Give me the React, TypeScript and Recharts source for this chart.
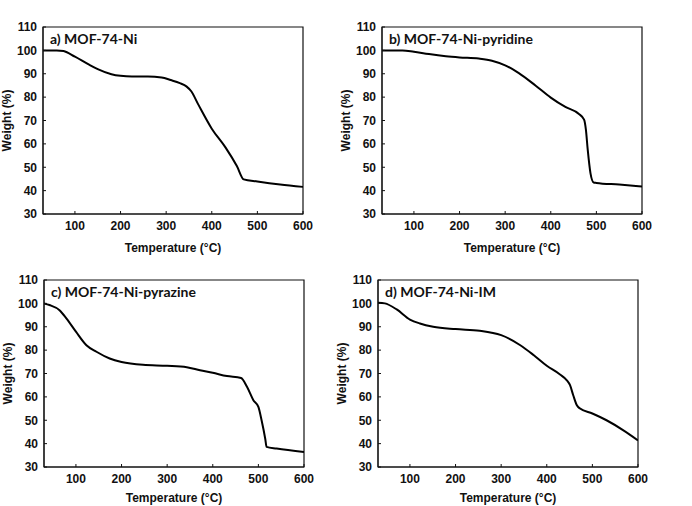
import { LineChart, Line, XAxis, YAxis, ReferenceArea, Label } from "recharts"

// tick values shared by all four panels
const xTicks = [100, 200, 300, 400, 500, 600]
const yTicks = [30, 40, 50, 60, 70, 80, 90, 100, 110]

// a) MOF-74-Ni
const aTemp = [30, 60, 75, 100, 130, 150, 180, 200, 225, 260, 290, 310, 330, 345, 355, 370, 400, 430, 455, 470, 500, 550, 600]
const aWeight = [100, 100, 99.7, 97.3, 94, 92, 89.8, 89.1, 88.8, 88.8, 88.4, 87.3, 86, 84.5, 82.5, 77, 66.5, 58.5, 50.5, 44.8, 43.9, 42.6, 41.6]

// b) MOF-74-Ni-pyridine
const bTemp = [30, 75, 100, 133, 170, 200, 242, 271, 300, 330, 367, 400, 432, 461, 473, 477, 481, 487, 494, 500, 550, 600]
const bWeight = [100, 100, 99.4, 98.4, 97.5, 97, 96.5, 95.6, 93.6, 90.3, 84.9, 79.8, 75.8, 72.9, 70.4, 66.1, 57.5, 47.5, 43.5, 43.3, 42.6, 41.8]

// c) MOF-74-Ni-pyrazine
const cTemp = [30, 42, 64, 79, 100, 123, 145, 174, 200, 247, 300, 343, 372, 400, 431, 462, 475, 489, 500, 507, 515, 518, 540, 600]
const cWeight = [100, 99.3, 97.1, 93.6, 87.9, 82.1, 79.3, 76.4, 74.9, 73.7, 73.3, 72.7, 71.4, 70.3, 68.9, 68.1, 64.3, 58.6, 55.7, 50, 42.1, 38.6, 37.9, 36.4]

// d) MOF-74-Ni-IM
const dTemp = [30, 45, 71, 100, 122, 151, 200, 253, 300, 342, 371, 400, 429, 444, 451, 458, 466, 473, 500, 531, 568, 600]
const dWeight = [100.3, 100, 97.4, 93.1, 91.4, 90, 89, 88.3, 86.4, 82.1, 77.9, 73.3, 69.6, 67.1, 65, 60.7, 56.4, 55, 52.9, 50, 45.7, 41.4]

const tickFont = { fontFamily: "'Liberation Sans Narrow', 'Liberation Sans', Arial, sans-serif", fontWeight: 700, fontSize: 12, fill: "#111" }
const titleFont = { fontFamily: "'Liberation Sans', Arial, sans-serif", fontWeight: 700, fontSize: 12, fill: "#111" }

function Panel({ title, temps, weights, plotLeft, plotTop, labelOffset }: { title: string; temps: number[]; weights: number[]; plotLeft: number; plotTop: number; labelOffset: number }) {
  const data = temps.map((t, i) => ({ t, w: weights[i] }))
  return (
    <div style={{ position: "absolute", left: plotLeft - 45, top: plotTop - 27 }}>
      <LineChart width={315} height={258} data={data} margin={{ top: 27, right: 10, bottom: 5, left: 0 }}>
        <XAxis
          dataKey="t"
          type="number"
          domain={[30, 600]}
          ticks={xTicks}
          allowDataOverflow
          height={39}
          tickSize={-3}
          tickMargin={10}
          stroke="#111"
          tick={tickFont}
        >
          <Label value="Temperature (°C)" position="insideBottom" offset={labelOffset} style={titleFont} />
        </XAxis>
        <YAxis
          type="number"
          domain={[30, 110]}
          ticks={yTicks}
          allowDataOverflow
          width={45}
          tickSize={-3}
          tickMargin={9}
          stroke="#111"
          tick={tickFont}
        >
          <Label value="Weight (%)" angle={-90} position="insideLeft" offset={9} style={{ ...titleFont, textAnchor: "middle" }} />
        </YAxis>
        <ReferenceArea x1={30} x2={600} y1={30} y2={110} fill="none" stroke="#111" strokeWidth={1.2} fillOpacity={0}>
          <Label
            value={title}
            position="insideTopLeft"
            offset={7}
            style={{ fontFamily: "Lato, 'Open Sans', sans-serif", fontWeight: 700, fontSize: 14, fill: "#111" }}
          />
        </ReferenceArea>
        <Line type="monotone" dataKey="w" stroke="#000" strokeWidth={2} dot={false} isAnimationActive={false} />
      </LineChart>
    </div>
  )
}

export default function App() {
  return (
    <div style={{ position: "absolute", left: 0, top: 0, width: 692, height: 506, background: "#fff", overflow: "hidden" }}>
      <Panel title="a) MOF-74-Ni" temps={aTemp} weights={aWeight} plotLeft={43} plotTop={27} labelOffset={1} />
      <Panel title="b) MOF-74-Ni-pyridine" temps={bTemp} weights={bWeight} plotLeft={382} plotTop={27} labelOffset={1} />
      <Panel title="c) MOF-74-Ni-pyrazine" temps={cTemp} weights={cWeight} plotLeft={44} plotTop={280} labelOffset={4} />
      <Panel title="d) MOF-74-Ni-IM" temps={dTemp} weights={dWeight} plotLeft={378} plotTop={280} labelOffset={4} />
    </div>
  )
}
